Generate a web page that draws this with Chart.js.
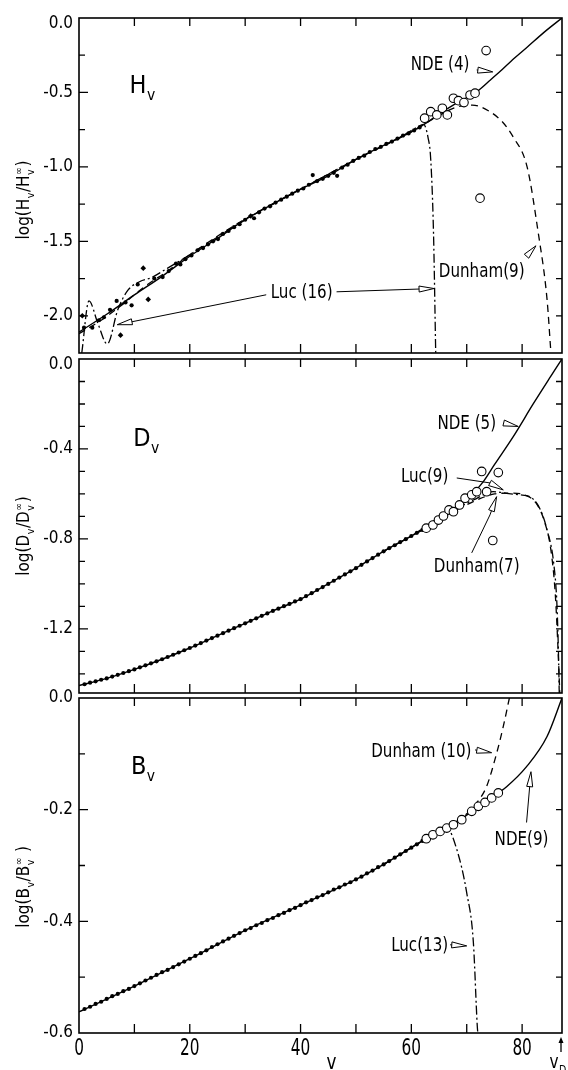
<!DOCTYPE html>
<html>
<head>
<meta charset="utf-8">
<script src="https://cdn.jsdelivr.net/npm/chart.js@4.4.1/dist/chart.umd.min.js"></script>
<style>
  html, body { margin: 0; padding: 0; background: #fff; }
  #wrap { position: relative; width: 568px; height: 1070px; overflow: hidden; }
  canvas { position: absolute; left: 0; }
</style>
</head>
<body>
<div id="wrap">
  <canvas id="cH" width="568" height="360" style="top:0px"></canvas>
  <canvas id="cD" width="568" height="360" style="top:340px"></canvas>
  <canvas id="cB" width="568" height="390" style="top:680px"></canvas>
</div>
<script>
// =========================================================================
// Data
// =========================================================================
const vD = 87.2;
const xTicks = [0, 10, 20, 30, 40, 50, 60, 70, 80];
const xLabels = [0, 20, 40, 60, 80];

const hTicks = [0, -0.25, -0.5, -0.75, -1.0, -1.25, -1.5, -1.75, -2.0];
const hLabels = [0, -0.5, -1.0, -1.5, -2.0];
const dTicks = [0, -0.1, -0.2, -0.3, -0.4, -0.5, -0.6, -0.7, -0.8, -0.9, -1.0, -1.1, -1.2, -1.3, -1.4];
const dLabels = [0, -0.4, -0.8, -1.2];
const bTicks = [0, -0.1, -0.2, -0.3, -0.4, -0.5, -0.6];
const bLabels = [0, -0.2, -0.4, -0.6];

// vibrational levels of the filled-dot data (D and B panels)
const dotV = [1, 2, 3, 4, 5, 6, 7, 8, 9, 10, 11, 12, 13, 14, 15, 16, 17, 18, 19, 20,
  21, 22, 23, 24, 25, 26, 27, 28, 29, 30, 31, 32, 33, 34, 35, 36, 37, 38, 39, 40,
  41, 42, 43, 44, 45, 46, 47, 48, 49, 50, 51, 52, 53, 54, 55, 56, 57, 58, 59, 60, 61, 62];

// --- H_v panel ---
const hDots = [[0.9, -2.08], [2.4, -2.08], [3.6, -2.03], [4.5, -2.01], [5.6, -1.96], [6.8, -1.90],
  [8.4, -1.91], [9.5, -1.93], [10.6, -1.79], [13.6, -1.75], [15.1, -1.74], [16.2, -1.70],
  [17.5, -1.65], [18.3, -1.655], [19.2, -1.62], [20.3, -1.595], [21.4, -1.56], [22.4, -1.545],
  [23.3, -1.52], [24.2, -1.50], [25.1, -1.485], [26, -1.45], [27, -1.43], [28, -1.405],
  [29, -1.385], [30, -1.355], [31.6, -1.345], [32.5, -1.305], [33.5, -1.28], [34.5, -1.265],
  [35.5, -1.24], [36.5, -1.22], [37.5, -1.20], [38.5, -1.18], [39.5, -1.16], [40.5, -1.145],
  [41.5, -1.12], [42.2, -1.055], [43, -1.095], [44, -1.08], [45, -1.06], [46, -1.04],
  [46.6, -1.06], [47.5, -1.005], [48.5, -0.985], [49.5, -0.96], [50.5, -0.94], [51.5, -0.925],
  [52.5, -0.90], [53.5, -0.88], [54.5, -0.865], [55.5, -0.845], [56.5, -0.83], [57.5, -0.81],
  [58.5, -0.79], [59.5, -0.775], [60.5, -0.755], [61.5, -0.735]];
const hStars = [[0.6, -2.00], [7.5, -2.13], [11.6, -1.68], [12.5, -1.89], [31.0, -1.33]];
const hCircles = [[62.4, -0.673], [63.5, -0.629], [64.6, -0.651], [65.6, -0.606], [66.5, -0.651],
  [67.6, -0.539], [68.5, -0.555], [69.5, -0.568], [70.6, -0.517], [71.5, -0.505],
  [73.5, -0.219], [72.4, -1.21]];
const hNde = [[0, -2.11], [5, -1.99], [10, -1.86], [15, -1.735], [20, -1.60], [25, -1.48],
  [30, -1.355], [35, -1.25], [40, -1.15], [45, -1.06], [50, -0.95], [55, -0.855], [60, -0.765],
  [62.5, -0.71], [65, -0.645], [68, -0.575], [71.8, -0.495], [74, -0.425], [76, -0.36],
  [78, -0.29], [80.8, -0.20], [84, -0.095], [87.2, 0]];
const hDunham = [[0, -2.12], [4, -2.03], [8, -1.92], [12, -1.80], [16, -1.70], [20, -1.59],
  [30, -1.35], [40, -1.15], [50, -0.95], [60, -0.765], [65, -0.655], [68, -0.60], [71, -0.585],
  [74, -0.625], [76.5, -0.70], [78.4, -0.80], [80.9, -1.0], [82.9, -1.44], [84.5, -1.89], [85.2, -2.25]];
const hLuc = [[0.5, -2.25], [1.8, -1.90], [3.4, -2.05], [5.1, -2.19], [7.0, -1.96], [8.8, -1.83],
  [11, -1.77], [13, -1.745], [16, -1.68], [20, -1.59], [30, -1.355], [40, -1.15], [50, -0.95],
  [58, -0.80], [61, -0.735], [62.2, -0.715], [63.0, -0.80], [63.5, -0.95], [64.0, -1.44], [64.4, -2.25]];

// --- D_v panel ---
const dDotLog = [-1.446, -1.439, -1.433, -1.426, -1.420, -1.412, -1.404, -1.396, -1.388, -1.380,
  -1.371, -1.362, -1.353, -1.344, -1.335, -1.325, -1.315, -1.305, -1.295, -1.285,
  -1.274, -1.263, -1.252, -1.241, -1.230, -1.219, -1.208, -1.197, -1.186, -1.175,
  -1.164, -1.153, -1.142, -1.131, -1.120, -1.110, -1.099, -1.089, -1.078, -1.068,
  -1.054, -1.041, -1.027, -1.014, -1.000, -0.986, -0.972, -0.958, -0.944, -0.930,
  -0.915, -0.900, -0.885, -0.870, -0.855, -0.841, -0.828, -0.814, -0.801, -0.787,
  -0.773, -0.760];
const dCircles = [[62.7, -0.752], [63.9, -0.738], [64.9, -0.716], [65.8, -0.698], [66.8, -0.671],
  [67.6, -0.679], [68.7, -0.649], [69.7, -0.619], [70.9, -0.604], [71.8, -0.59], [73.6, -0.59],
  [72.7, -0.50], [75.7, -0.505], [74.7, -0.807]];
const dNde = [[0, -1.452], [5, -1.42], [10, -1.38], [15, -1.335], [20, -1.285], [25, -1.23],
  [30, -1.175], [35, -1.12], [40, -1.068], [45, -1.0], [50, -0.93], [55, -0.855], [60, -0.787],
  [63, -0.745], [66, -0.69], [69, -0.64], [71, -0.60], [73, -0.545], [75, -0.47],
  [78.4, -0.345], [82, -0.20], [85.1, -0.08], [87.2, 0]];
const dDunham = [[55, -0.855], [60, -0.787], [63, -0.745], [66, -0.70], [69, -0.66], [72, -0.625],
  [75, -0.60], [78, -0.596], [80.5, -0.605], [82.5, -0.64], [84, -0.72], [85.2, -0.85],
  [86, -1.05], [86.5, -1.3], [86.8, -1.485]];
const dLuc = [[55, -0.855], [60, -0.787], [65, -0.705], [68.8, -0.656], [71.2, -0.627],
  [74.8, -0.59], [77.2, -0.597], [79.6, -0.604], [81.4, -0.612], [83.3, -0.67], [84.5, -0.76],
  [85.7, -0.908], [86.3, -1.1], [86.6, -1.35], [86.7, -1.485]];

// --- B_v panel ---
const bDotLog = [-0.557, -0.553, -0.548, -0.544, -0.539, -0.534, -0.530, -0.525, -0.521, -0.516,
  -0.511, -0.506, -0.501, -0.496, -0.491, -0.487, -0.482, -0.477, -0.472, -0.467,
  -0.462, -0.457, -0.452, -0.446, -0.441, -0.436, -0.431, -0.426, -0.421, -0.416,
  -0.412, -0.407, -0.403, -0.398, -0.394, -0.389, -0.385, -0.380, -0.376, -0.371,
  -0.366, -0.362, -0.357, -0.353, -0.348, -0.343, -0.339, -0.334, -0.330, -0.325,
  -0.320, -0.314, -0.309, -0.303, -0.298, -0.292, -0.286, -0.280, -0.274, -0.268,
  -0.262, -0.256];
const bCircles = [[62.7, -0.252], [63.9, -0.245], [65.2, -0.239], [66.4, -0.233], [67.6, -0.227],
  [69.1, -0.218], [70.9, -0.203], [72.1, -0.194], [73.3, -0.187], [74.5, -0.179], [75.7, -0.17]];
const bNde = [[0, -0.562], [10, -0.516], [20, -0.467], [30, -0.416], [40, -0.371], [50, -0.325],
  [55, -0.298], [60, -0.268], [62.7, -0.252], [65.2, -0.239], [67.6, -0.227], [70.9, -0.203],
  [73.3, -0.187], [75.7, -0.17], [77.2, -0.159], [80.8, -0.123], [84.5, -0.069], [87.2, 0]];
const bDunham = [[55, -0.298], [60, -0.268], [65, -0.238], [68, -0.222], [70.5, -0.203],
  [71.8, -0.188], [73.6, -0.158], [75.4, -0.099], [76.6, -0.051], [77.7, 0]];
const bLuc = [[55, -0.298], [60, -0.268], [64, -0.245], [66.4, -0.233], [68.2, -0.271],
  [70.0, -0.349], [71.2, -0.438], [71.9, -0.587], [72.0, -0.6]];

// =========================================================================
// Text helpers
// =========================================================================
const FONT = '"DejaVu Sans Condensed", "DejaVu Sans", sans-serif';

function textAt(ctx, str, x, y, size, hs, align) {
  ctx.save();
  ctx.font = size + "px " + FONT;
  ctx.textBaseline = "middle";
  ctx.textAlign = align || "center";
  ctx.translate(x, y);
  ctx.scale(hs || 1, 1);
  ctx.fillText(str, 0, 0);
  ctx.restore();
}

// parts: [{t}, {t, sub: true, sup}] drawn centred on x, baseline y
function drawRich(ctx, parts, x, y, size, hs) {
  ctx.save();
  ctx.translate(x, y);
  ctx.scale(hs || 1, 1);
  ctx.textAlign = "left";
  ctx.textBaseline = "alphabetic";
  const small = size * 0.62;
  const widths = parts.map((p) => {
    if (p.sub) {
      ctx.font = small + "px " + FONT;
      const w1 = ctx.measureText(p.t).width;
      const w2 = p.sup ? ctx.measureText(p.sup).width : 0;
      return Math.max(w1, w2) + 1;
    }
    ctx.font = size + "px " + FONT;
    return ctx.measureText(p.t).width;
  });
  let cx = -widths.reduce((s, w) => s + w, 0) / 2;
  parts.forEach((p, i) => {
    if (p.sub) {
      ctx.font = small + "px " + FONT;
      ctx.fillText(p.t, cx + 0.5, size * 0.28);
      if (p.sup) ctx.fillText(p.sup, cx + 0.5, -size * 0.42);
    } else {
      ctx.font = size + "px " + FONT;
      ctx.fillText(p.t, cx, 0);
    }
    cx += widths[i];
  });
  ctx.restore();
}

// polyline ending in a thin open wedge pointing at the last point
function drawPointer(ctx, pts) {
  const n = pts.length;
  const tip = pts[n - 1], prev = pts[n - 2];
  const dx = tip[0] - prev[0], dy = tip[1] - prev[1];
  const L = Math.hypot(dx, dy);
  const ux = dx / L, uy = dy / L;
  const wl = Math.min(15, L);
  const bx = tip[0] - ux * wl, by = tip[1] - uy * wl;
  ctx.lineWidth = 1;
  if (n > 2 || L > wl + 0.5) {
    ctx.beginPath();
    ctx.moveTo(pts[0][0], pts[0][1]);
    for (let i = 1; i < n - 1; i++) ctx.lineTo(pts[i][0], pts[i][1]);
    ctx.lineTo(bx, by);
    ctx.stroke();
  }
  ctx.beginPath();
  ctx.moveTo(bx - uy * 3, by + ux * 3);
  ctx.lineTo(tip[0], tip[1]);
  ctx.lineTo(bx + uy * 3, by - ux * 3);
  ctx.closePath();
  ctx.stroke();
}

// =========================================================================
// Panels
// =========================================================================
const toPts = (arr) => arr.map(([x, y]) => ({ x, y }));
const isIn = (list, v) => list.some((l) => Math.abs(l - v) < 1e-6);

function decorPlugin(p) {
  return {
    id: "decor",
    afterDatasetsDraw(chart) {
      const ctx = chart.ctx;
      const a = chart.chartArea;
      const xs = chart.scales.x, ys = chart.scales.y;
      const px = (v) => xs.getPixelForValue(v);
      const py = (v) => ys.getPixelForValue(v);
      ctx.save();
      ctx.strokeStyle = "#000";
      ctx.fillStyle = "#000";

      // frame and inward ticks
      ctx.lineWidth = 1.6;
      ctx.strokeRect(a.left, a.top, a.right - a.left, a.bottom - a.top);
      ctx.lineWidth = 1.3;
      ctx.beginPath();
      xs.ticks.forEach((t) => {
        const x = px(t.value);
        if (x <= a.left + 1 || x >= a.right - 1) return;
        ctx.moveTo(x, a.bottom); ctx.lineTo(x, a.bottom - 9);
        ctx.moveTo(x, a.top); ctx.lineTo(x, a.top + 8);
      });
      ys.ticks.forEach((t) => {
        const y = py(t.value);
        if (y <= a.top + 1 || y >= a.bottom - 1) return;
        const len = isIn(p.yLabels, t.value) ? 9 : 6;
        ctx.moveTo(a.left, y); ctx.lineTo(a.left + len, y);
        ctx.moveTo(a.right, y); ctx.lineTo(a.right - 6, y);
      });
      ctx.stroke();

      // y tick labels
      p.yLabels.forEach((v) => {
        let y = py(v);
        if (p.clampTop) y = Math.max(y, a.top + 6);
        textAt(ctx, v === 0 ? "0.0" : v.toFixed(1), a.left - 6, y, 17, 1, "right");
      });

      // x tick labels + axis title (bottom panel only)
      if (p.xLabels) {
        xLabels.forEach((v) => {
          textAt(ctx, String(v), px(v), a.bottom + 16, 23, 0.74);
        });
        textAt(ctx, "v", px(45.6), a.bottom + 30, 22, 0.85);
        // v_D marker
        const xd = px(vD) - 1;
        ctx.lineWidth = 1.3;
        ctx.beginPath();
        ctx.moveTo(xd, a.bottom + 6); ctx.lineTo(xd, a.bottom + 19);
        ctx.stroke();
        ctx.beginPath();
        ctx.moveTo(xd, a.bottom + 4); ctx.lineTo(xd - 2.5, a.bottom + 10); ctx.lineTo(xd + 2.5, a.bottom + 10);
        ctx.closePath();
        ctx.fill();
        drawRich(ctx, [{ t: "v" }, { t: "D", sub: true }], xd - 3, a.bottom + 35, 20, 0.85);
      }

      // y axis title (rotated)
      ctx.save();
      ctx.translate(23, a.top + p.titleOffset);
      ctx.rotate(-Math.PI / 2);
      drawRich(ctx, p.yTitle, 0, 6, 17, 1);
      ctx.restore();

      // panel symbol
      const s = p.symbol;
      drawRich(ctx, [{ t: s.main }, { t: "v", sub: true }], px(s.at[0]), py(s.at[1]) + 9, 25, 1);

      // annotations
      p.notes.forEach((n) => {
        if (n.text) textAt(ctx, n.text, px(n.at[0]), py(n.at[1]), 20, 0.84);
        drawPointer(ctx, n.path.map(([v, y]) => [px(v), py(y)]));
      });
      ctx.restore();
    },
  };
}

function makePanel(id, p) {
  const datasets = [
    { data: toPts(p.circles), showLine: false, pointRadius: 4.3, pointBackgroundColor: "#fff",
      pointBorderColor: "#000", pointBorderWidth: 1.1, order: 0 },
    { data: toPts(p.dots), showLine: false, pointRadius: 2.1, pointBackgroundColor: "#000",
      pointBorderColor: "#000", pointBorderWidth: 0, order: 1 },
    { data: toPts(p.nde), borderColor: "#000", borderWidth: 1.4, pointRadius: 0,
      cubicInterpolationMode: "monotone", order: 3 },
    { data: toPts(p.dunham), borderColor: "#000", borderWidth: 1.3, borderDash: [7, 5],
      pointRadius: 0, cubicInterpolationMode: "monotone", order: 4 },
    { data: toPts(p.luc), borderColor: "#000", borderWidth: 1.3, borderDash: [9, 3, 2, 3],
      pointRadius: 0, cubicInterpolationMode: "monotone", order: 5 },
  ];
  if (p.stars) {
    datasets.push({ data: toPts(p.stars), showLine: false, pointStyle: "rectRot", pointRadius: 2.8,
      pointBackgroundColor: "#000", pointBorderColor: "#000", pointBorderWidth: 0, order: 2 });
  }
  return new Chart(document.getElementById(id), {
    type: "line",
    data: { datasets },
    options: {
      responsive: false,
      animation: false,
      devicePixelRatio: 1,
      events: [],
      layout: { padding: { left: 0, right: 6, top: p.padTop, bottom: p.padBottom } },
      plugins: { legend: { display: false }, tooltip: { enabled: false } },
      scales: {
        x: {
          type: "linear", min: 0, max: vD,
          grid: { display: false, drawTicks: false },
          border: { display: false },
          ticks: { display: false },
          afterBuildTicks: (s) => { s.ticks = xTicks.map((v) => ({ value: v })); },
          afterFit: (s) => { s.height = p.xAxisH; },
        },
        y: {
          type: "linear", min: p.yMin, max: 0,
          grid: { display: false, drawTicks: false },
          border: { display: false },
          ticks: { display: false },
          afterBuildTicks: (s) => { s.ticks = p.yTicks.map((v) => ({ value: v })); },
          afterFit: (s) => { s.width = 79; },
        },
      },
    },
    plugins: [decorPlugin(p)],
  });
}

makePanel("cH", {
  padTop: 18, padBottom: 7, xAxisH: 0, yMin: -2.25, yTicks: hTicks, yLabels: hLabels, clampTop: true,
  dots: hDots, stars: hStars, circles: hCircles, nde: hNde, dunham: hDunham, luc: hLuc,
  titleOffset: 182,
  yTitle: [{ t: "log(" }, { t: "H" }, { t: "v", sub: true }, { t: "/" }, { t: "H" },
    { t: "v", sub: true, sup: "\u221e" }, { t: ")" }],
  symbol: { main: "H", at: [11.5, -0.44] },
  notes: [
    { text: "NDE (4)", at: [65.2, -0.315], path: [[71.8, -0.349], [74.7, -0.362]] },
    { text: "Dunham(9)", at: [72.7, -1.703], path: [[80.8, -1.60], [82.5, -1.53]] },
    { text: "Luc (16)", at: [40.2, -1.846], path: [[46.5, -1.839], [64.1, -1.817]] },
    { text: "", path: [[33.8, -1.859], [6.9, -2.06]] },
  ],
});

makePanel("cD", {
  padTop: 19, padBottom: 7, xAxisH: 0, yMin: -1.485, yTicks: dTicks, yLabels: dLabels, clampTop: true,
  dots: dotV.map((v, i) => [v, dDotLog[i]]), circles: dCircles, nde: dNde, dunham: dDunham, luc: dLuc,
  titleOffset: 177,
  yTitle: [{ t: "log(" }, { t: "D" }, { t: "v", sub: true }, { t: "/" }, { t: "D" },
    { t: "v", sub: true, sup: "\u221e" }, { t: ")" }],
  symbol: { main: "D", at: [12.2, -0.345] },
  notes: [
    { text: "NDE (5)", at: [70.0, -0.286], path: [[76.6, -0.284], [79.3, -0.30]] },
    { text: "Luc(9)", at: [62.4, -0.523], path: [[68.2, -0.529], [74.2, -0.551], [76.6, -0.582]] },
    { text: "Dunham(7)", at: [71.8, -0.923], path: [[70.9, -0.862], [74.2, -0.693], [75.4, -0.612]] },
  ],
});

makePanel("cB", {
  padTop: 18, padBottom: 0, xAxisH: 37, yMin: -0.6, yTicks: bTicks, yLabels: bLabels, clampTop: false,
  xLabels: true,
  dots: dotV.map((v, i) => [v, bDotLog[i]]), circles: bCircles, nde: bNde, dunham: bDunham, luc: bLuc,
  titleOffset: 189,
  yTitle: [{ t: "log(" }, { t: "B" }, { t: "v", sub: true }, { t: "/" }, { t: "B" },
    { t: "v", sub: true, sup: "\u221e" }, { t: " )" }],
  symbol: { main: "B", at: [11.6, -0.12] },
  notes: [
    { text: "Dunham (10)", at: [61.8, -0.096], path: [[71.5, -0.093], [74.5, -0.098]] },
    { text: "NDE(9)", at: [79.9, -0.254], path: [[80.8, -0.223], [81.6, -0.132]] },
    { text: "Luc(13)", at: [61.5, -0.444], path: [[67.0, -0.442], [70.0, -0.444]] },
  ],
});
</script>
</body>
</html>
